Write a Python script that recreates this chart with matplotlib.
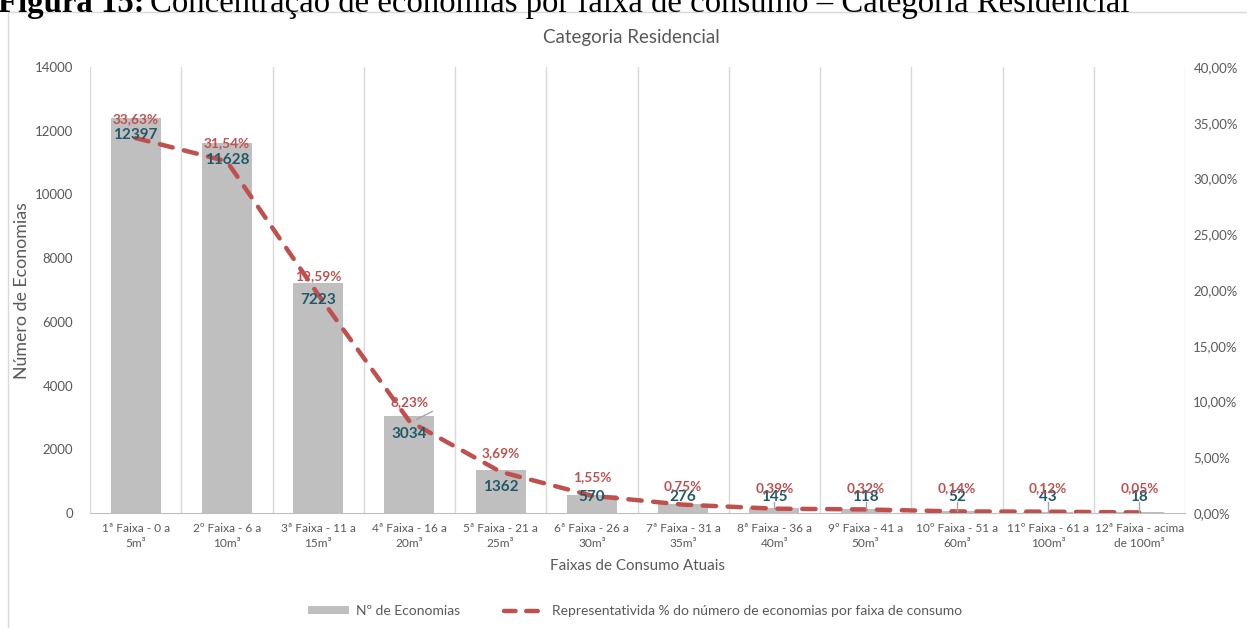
import matplotlib
matplotlib.use("Agg")
import matplotlib.pyplot as plt
from matplotlib.lines import Line2D
from matplotlib.patches import Patch
import numpy as np

categories = [
    "1ª Faixa - 0 a\n5m³", "2º Faixa - 6 a\n10m³", "3ª Faixa - 11 a\n15m³",
    "4ª Faixa - 16 a\n20m³", "5ª Faixa - 21 a\n25m³", "6ª Faixa - 26 a\n30m³",
    "7ª Faixa - 31 a\n35m³", "8ª Faixa - 36 a\n40m³", "9º Faixa - 41 a\n50m³",
    "10º Faixa - 51 a\n60m³", "11º Faixa - 61 a\n100m³", "12ª Faixa - acima\nde 100m³",
]
economias = [12397, 11628, 7223, 3034, 1362, 570, 276, 145, 118, 52, 43, 18]
percentuais = [33.63, 31.54, 19.59, 8.23, 3.69, 1.55, 0.75, 0.39, 0.32, 0.14, 0.12, 0.05]
left_ticks = [0, 2000, 4000, 6000, 8000, 10000, 12000, 14000]
right_ticks = [0, 5, 10, 15, 20, 25, 30, 35, 40]

FONT = ["Lato", "DejaVu Sans"]
plt.rcParams["font.family"] = FONT
GRAY_TXT = "#595959"
BAR_C = "#BFBFBF"
RED = "#C0504D"
TEAL = "#215968"
GRID = "#D9D9D9"

W, H = 1247, 628
fig = plt.figure(figsize=(W / 100, H / 100), dpi=100)

def fx(px):
    return px / W

def fy(py):
    return 1 - py / H

# cropped document caption
cap1 = fig.text(fx(-2), fy(12), "Figura 15:", family="Liberation Serif",
                fontweight="bold", fontsize=23.6, va="baseline", ha="left", color="black")
fig.canvas.draw()
bb = cap1.get_window_extent()
fig.text(bb.x1 / W + fx(6), fy(12),
         "Concentração de economias por faixa de consumo – Categoria Residencial",
         family="Liberation Serif", fontsize=23.6, va="baseline", ha="left", color="black")

# chart border
fig.add_artist(Line2D([fx(8), fx(8), 1.0], [0.0, fy(12), fy(12)],
                      transform=fig.transFigure, color=GRID, lw=1))

ax = fig.add_axes([fx(90), fy(513), fx(1185) - fx(90), fy(67) - fy(513)])
ax2 = ax.twinx()

n = len(categories)
x = np.arange(n)
ax.bar(x, economias, width=0.55, color=BAR_C, zorder=2)
ax.set_xlim(-0.5, n - 0.5)
ax.set_ylim(0, 14000)
ax.set_yticks(left_ticks)
ax.set_yticklabels([str(t) for t in left_ticks])

# vertical gridlines at category boundaries
for b in np.arange(-0.5, n + 0.5, 1):
    ax.axvline(b, color=GRID, lw=1, zorder=1)

for s in ["top", "right", "left"]:
    ax.spines[s].set_visible(False)
ax.spines["bottom"].set_color(BAR_C)
ax.spines["bottom"].set_zorder(3)
for s in ["top", "right", "left", "bottom"]:
    ax2.spines[s].set_visible(False)

ax.tick_params(axis="y", length=0, labelsize=9.5, labelcolor=GRAY_TXT, pad=12)
ax.tick_params(axis="x", length=0, labelsize=8.6, labelcolor=GRAY_TXT, pad=7)
ax.set_xticks(x)
ax.set_xticklabels(categories, linespacing=1.5)

ax2.set_ylim(0, 40)
ax2.set_yticks(right_ticks)
ax2.set_yticklabels([f"{t:.2f}%".replace(".", ",") for t in right_ticks])
ax2.tick_params(axis="y", length=0, labelsize=9.5, labelcolor=GRAY_TXT, pad=6)

ax2.plot(x, percentuais, color=RED, lw=3.2, linestyle=(0, (3.0, 2.6)),
         dash_capstyle="round", zorder=4)

ax.set_zorder(ax2.get_zorder() - 1)
ax.patch.set_visible(False)

# bar labels
for xi, v in zip(x, economias):
    ly = max(v - 540, 500)
    if ly - v > 300:
        ax2.plot([xi, xi], [v / 14000 * 40, (ly - 170) / 14000 * 40],
                 color="#A6A6A6", lw=1, zorder=5)
    ax2.text(xi, ly / 14000 * 40, str(v), ha="center", va="center",
             fontsize=11, fontweight="bold", color=TEAL, zorder=6)

# percentage labels
for xi, p in zip(x, percentuais):
    ly = max(p + 1.68, 2.2)
    ax2.text(xi, ly, f"{p:.2f}%".replace(".", ","), ha="center", va="center",
             fontsize=9.8, fontweight="bold", color=RED, zorder=6)
# leader for 8,23%
ax2.plot([3.08, 3.25], [8.4, 9.1], color="#A6A6A6", lw=1, zorder=5)

fig.text(fx(631), fy(38), "Categoria Residencial", ha="center", va="center",
         fontsize=13.5, color=GRAY_TXT)
fig.text(fx(22), fy(291), "Número de Economias", ha="center", va="center",
         rotation=90, fontsize=12.8, color=GRAY_TXT)
fig.text(fx(638), fy(566), "Faixas de Consumo Atuais", ha="center", va="center",
         fontsize=10.9, color=GRAY_TXT)

handles = [Patch(facecolor=BAR_C, edgecolor="none"),
           Line2D([0], [0], color=RED, lw=3.2, linestyle=(0, (2.6, 2.4)),
                  dash_capstyle="round")]
labels = ["Nº de Economias",
          "Representativida % do número de economias por faixa de consumo"]
leg = fig.legend(handles, labels, loc="center", bbox_to_anchor=(fx(635), fy(611)),
                 ncol=2, frameon=False, fontsize=10, handlelength=3.0,
                 handleheight=0.5, columnspacing=3.2, handletextpad=0.45,
                 labelcolor=GRAY_TXT)

fig.savefig("out.png", dpi=100)
